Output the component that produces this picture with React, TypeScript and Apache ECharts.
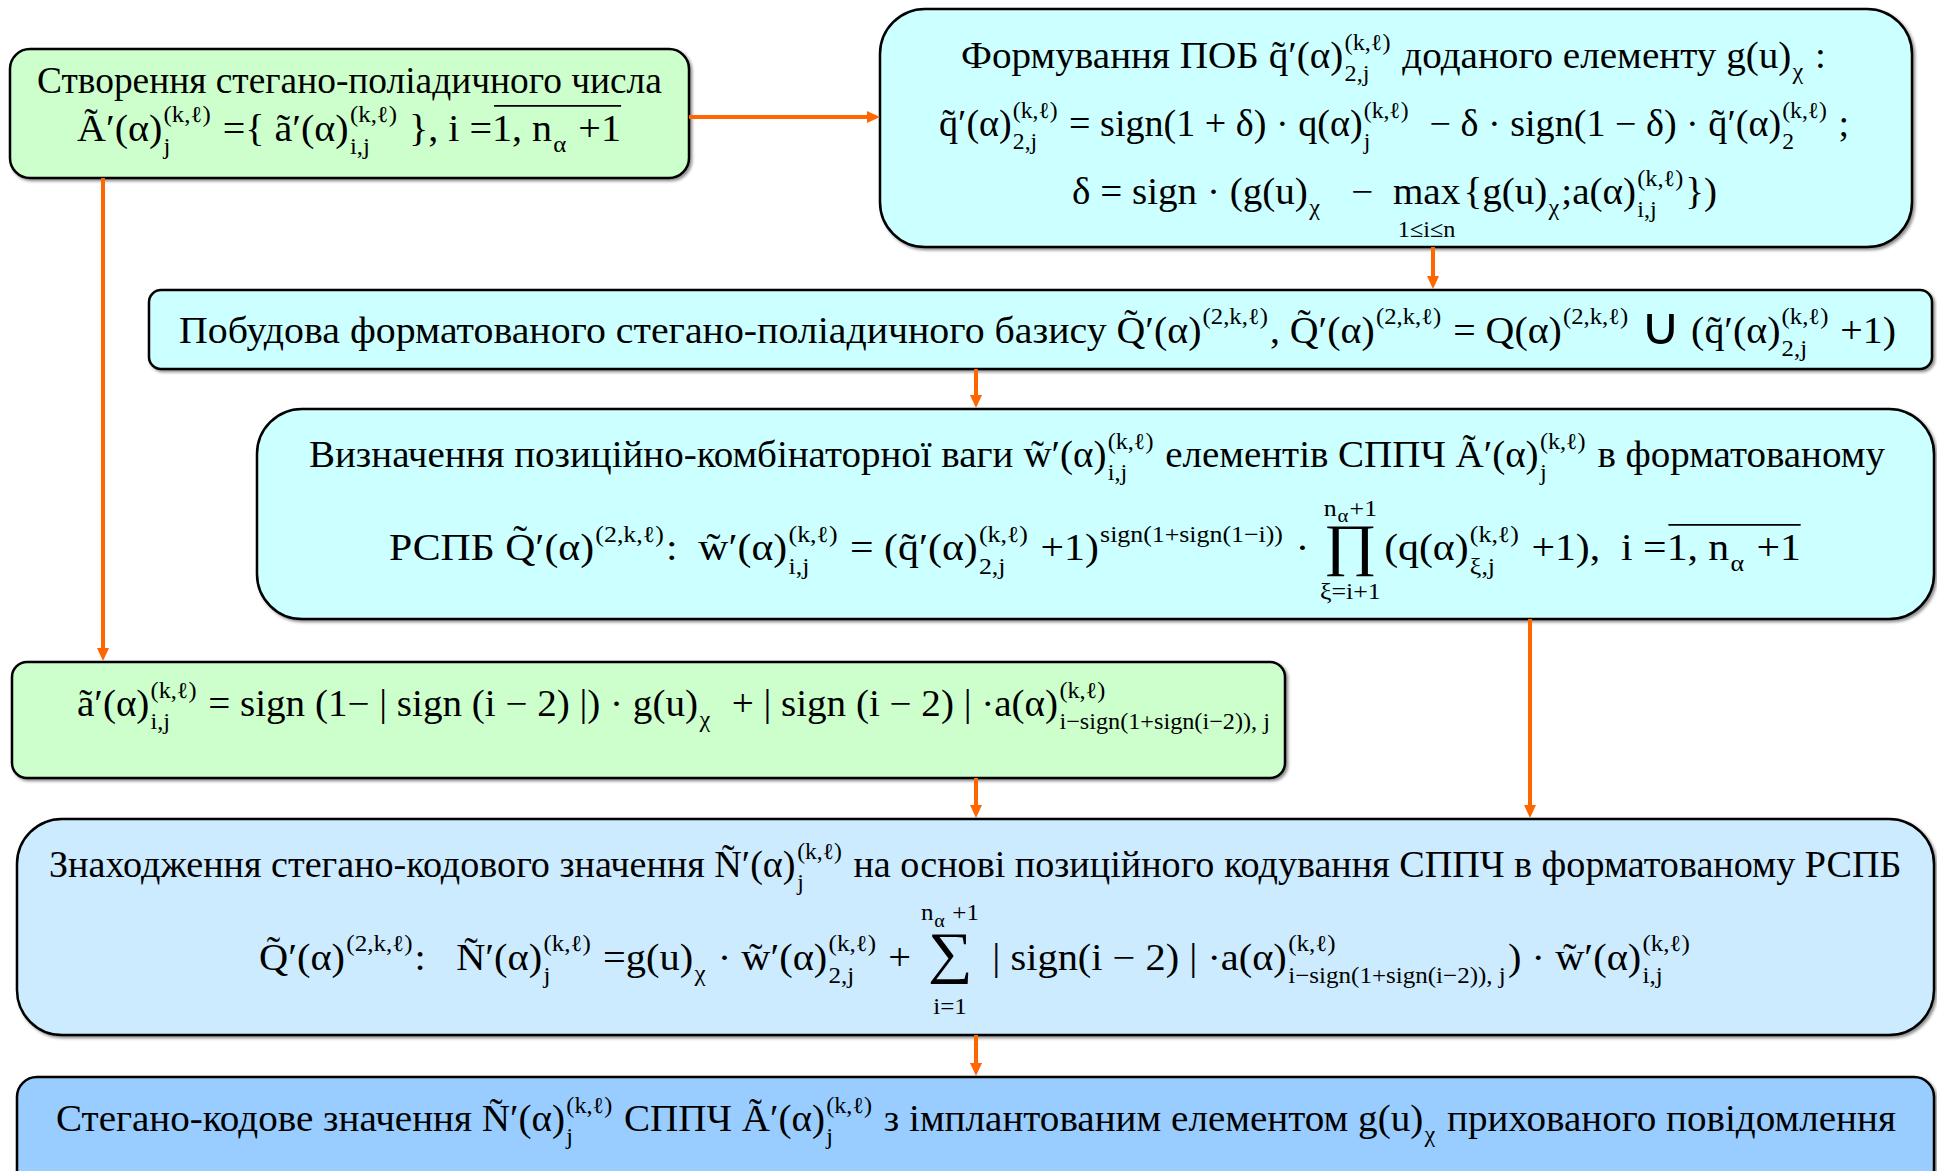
import React, { useEffect, useRef } from "react";
import * as echarts from "echarts";

const FONT = "Liberation Serif";
const KL = "(k,ℓ)";
const K2L = "(2,k,ℓ)";

const S = (sup: any, sub?: any) => ({ sup, sub });
const B = (sub: any) => ({ sub });
const U = (sup: any) => ({ sup });
const qt = { acc: "q", up: 0 };
const Qt = { acc: "Q", up: 0.2 };
const wt = { acc: "w", up: 0 };

// ---- text content ----
const box1Line1 = ["Створення стегано-поліадичного числа"];
const box1Line2 = ["Ã′(α)", S(KL, "j"), " ={ ã′(α)", S(KL, "i,j"), " }, i =", { ol: ["1, n", B("α"), " +1"] }];

const box2Line1 = ["Формування ПОБ ", qt, "′(α)", S(KL, "2,j"), " доданого елементу g(u)", B("χ"), " :"];
const box2Line2 = [qt, "′(α)", S(KL, "2,j"), " = sign(1 + δ) · q(α)", S(KL, "j"), "  − δ · sign(1 − δ) · ", qt, "′(α)", S(KL, "2"), " ;"];
const box2Line3 = ["δ = sign · (g(u)", B("χ"), "   −  ", { op: "max", under: "1≤i≤n", k: 1, ob: 0, unb: 0.9 }, "{g(u)", B("χ"), ";a(α)", S(KL, "i,j"), "})"];

const box3Line1 = ["Побудова форматованого стегано-поліадичного базису ", Qt, "′(α)", U(K2L), ", ", Qt, "′(α)", U(K2L), " = Q(α)", U(K2L), " ", { big: "∪", k: 1.4, dy: 0.04 }, " (", qt, "′(α)", S(KL, "2,j"), " +1)"];

const box4Line1 = ["Визначення позиційно-комбінаторної ваги ", wt, "′(α)", S(KL, "i,j"), " елементів СППЧ Ã′(α)", S(KL, "j"), " в форматованому"];
const box4Line2 = ["РСПБ ", Qt, "′(α)", U(K2L), ":  ", wt, "′(α)", S(KL, "i,j"), " = (", qt, "′(α)", S(KL, "2,j"), " +1)", U("sign(1+sign(1−i))"), " · ",
  { op: "∏", k: 1.55, ob: 0.1, over: ["n", B("α"), "+1"], under: "ξ=i+1", ovb: -1.2, unb: 1.05 },
  "(q(α)", S(KL, "ξ,j"), " +1),  i =", { ol: ["1, n", B("α"), " +1"] }];

const box5Line1 = ["ã′(α)", S(KL, "i,j"), " = sign (1− | sign (i − 2) |) · g(u)", B("χ"), "  + | sign (i − 2) | ·a(α)", S(KL, "i−sign(1+sign(i−2)), j")];

const box6Line1 = ["Знаходження стегано-кодового значення Ñ′(α)", S(KL, "j"), " на основі позиційного кодування СППЧ в форматованому РСПБ"];
const box6Line2 = [Qt, "′(α)", U(K2L), ":   Ñ′(α)", S(KL, "j"), " =g(u)", B("χ"), " · ", wt, "′(α)", S(KL, "2,j"), " + ",
  { op: "∑", k: 1.55, ob: 0.05, over: ["n", B("α"), " +1"], under: "i=1", ovb: -1.35, unb: 1.2 },
  " | sign(i − 2) | ·a(α)", S(KL, "i−sign(1+sign(i−2)), j"), ") · ", wt, "′(α)", S(KL, "i,j")];

const box7Line1 = ["Стегано-кодове значення Ñ′(α)", S(KL, "j"), " СППЧ Ã′(α)", S(KL, "j"), " з імплантованим елементом g(u)", B("χ"), " прихованого повідомлення"];

const lineTokens = [box1Line1, box1Line2, box2Line1, box2Line2, box2Line3, box3Line1, box4Line1, box4Line2, box5Line1, box6Line1, box6Line2, box7Line1];
// [x start, x end, baseline, font size]
const lineSpecs = [
  [37, 662, 93, 37], [77, 621, 141, 37],
  [961, 1826, 68, 37], [939, 1849, 136, 37], [1072, 1717, 204, 37],
  [179, 1896, 343, 37],
  [309, 1885, 467, 37], [389, 1801, 560, 37],
  [77, 1272, 716, 37],
  [49, 1902, 877, 37], [259, 1692, 970, 37],
  [56, 1896, 1131, 37],
];

// boxes: x, y, w, h, r
const boxRects = [
  [10, 49, 679, 129, 20],
  [880, 9, 1032, 238, 45],
  [149, 290, 1783, 79, 12],
  [257, 409, 1677, 210, 45],
  [12, 662, 1273, 116, 15],
  [17, 819, 1917, 216, 45],
  [17, 1077, 1917, 120, 20],
];
const boxFills = ["#CCFFCC", "#CCFFFF", "#CCFFFF", "#CCFFFF", "#CCFFCC", "#CCEBFF", "#99CCFF"];

// arrows: x1, y1, x2, y2 (tip at x2,y2)
const arrows = [
  [689, 117, 880, 117],
  [103, 178, 103, 661],
  [1433, 247, 1433, 289],
  [976, 369, 976, 408],
  [1530, 619, 1530, 818],
  [976, 778, 976, 818],
  [976, 1035, 976, 1076],
];
const ARROW = "#FF6600";

let ctx: CanvasRenderingContext2D | null = null;
function tw(s: string, size: number) {
  if (!ctx) ctx = document.createElement("canvas").getContext("2d");
  ctx!.font = `${size}px ${FONT}`;
  return ctx!.measureText(s).width;
}

type El = { s?: string; x: number; b: number; size: number; line?: number[]; lw?: number };

function lay(toks: any, F: number): { w: number; els: El[] } {
  const arr = typeof toks === "string" ? [toks] : toks;
  let x = 0;
  const els: El[] = [];
  const add = (sub: { els: El[] }, dx: number, db: number) => {
    for (const e of sub.els) {
      if (e.line) els.push({ ...e, line: [e.line[0] + dx, e.line[1] + db, e.line[2] + dx, e.line[3] + db] });
      else els.push({ ...e, x: e.x + dx, b: e.b + db });
    }
  };
  for (const t of arr) {
    if (typeof t === "string") {
      els.push({ s: t, x, b: 0, size: F });
      x += tw(t, F);
      continue;
    }
    if (t.acc !== undefined) {
      const lw = tw(t.acc, F);
      const tiw = tw("˜", F);
      els.push({ s: t.acc, x, b: 0, size: F });
      els.push({ s: "˜", x: x + (lw - tiw) / 2, b: -F * (t.up || 0), size: F });
      x += lw;
      continue;
    }
    if (t.op !== undefined) {
      const sz = F * (t.k ?? 1);
      const opw = tw(t.op, sz);
      const ssz = F * 0.62;
      const ov = t.over ? lay(t.over, ssz) : null;
      const un = t.under ? lay(t.under, ssz) : null;
      const w = Math.max(opw, ov ? ov.w : 0, un ? un.w : 0);
      els.push({ s: t.op, x: x + (w - opw) / 2, b: F * (t.ob ?? 0), size: sz });
      if (ov) add(ov, x + (w - ov.w) / 2, F * (t.ovb ?? -1.2));
      if (un) add(un, x + (w - un.w) / 2, F * (t.unb ?? 1.0));
      x += w + F * 0.08;
      continue;
    }
    if (t.ol !== undefined) {
      const inner = lay(t.ol, F);
      add(inner, x, 0);
      els.push({ x: 0, b: 0, size: F, line: [x + F * 0.05, -0.95 * F, x + inner.w, -0.95 * F], lw: Math.max(1.2, F * 0.045) });
      x += inner.w;
      continue;
    }
    if (t.big !== undefined) {
      const sz = F * t.k;
      els.push({ s: t.big, x, b: F * (t.dy ?? 0), size: sz });
      x += tw(t.big, sz);
      continue;
    }
    const ssz = F * (F >= 26 ? 0.62 : 0.8);
    const sp = t.sup ? lay(t.sup, ssz) : null;
    const sb = t.sub ? lay(t.sub, ssz) : null;
    x += F * 0.03;
    if (sp) add(sp, x, -F * 0.5);
    if (sb) add(sb, x, sp ? F * 0.36 : F * 0.3);
    x += Math.max(sp ? sp.w : 0, sb ? sb.w : 0) + F * 0.05;
  }
  return { w: x, els };
}

function buildGraphics() {
  const elements: any[] = [];
  boxRects.forEach((r, i) => {
    elements.push({
      type: "rect",
      shape: { x: r[0], y: r[1], width: r[2], height: r[3], r: r[4] },
      style: { fill: boxFills[i], stroke: "#000", lineWidth: 2.5, shadowColor: "rgba(0,0,0,0.45)", shadowBlur: 3, shadowOffsetX: 2, shadowOffsetY: 2 },
      z: 1,
    });
  });
  arrows.forEach((a) => {
    const [x1, y1, x2, y2] = a;
    const horiz = y1 === y2;
    const L = 13, W = 6;
    let tipBase: number[];
    let pts: number[][];
    if (horiz) {
      tipBase = [x2 - L, y2];
      pts = [[x2, y2], [x2 - L, y2 - W], [x2 - L, y2 + W]];
    } else {
      tipBase = [x2, y2 - L];
      pts = [[x2, y2], [x2 - W, y2 - L], [x2 + W, y2 - L]];
    }
    elements.push({ type: "line", shape: { x1, y1, x2: tipBase[0], y2: tipBase[1] }, style: { stroke: ARROW, lineWidth: 4 }, z: 2 });
    elements.push({ type: "polygon", shape: { points: pts }, style: { fill: ARROW }, z: 2 });
  });
  lineTokens.forEach((toks, i) => {
    const [x0, x1, base, F] = lineSpecs[i];
    const L = lay(toks, F);
    const sx = (x1 - x0) / L.w;
    const children: any[] = [];
    for (const e of L.els) {
      if (e.line) {
        children.push({ type: "line", z: 5, shape: { x1: e.line[0], y1: e.line[1], x2: e.line[2], y2: e.line[3] }, style: { stroke: "#000", lineWidth: e.lw } });
      } else {
        children.push({
          type: "text",
          z: 5,
          x: e.x,
          y: e.b - 0.3375 * e.size,
          style: { text: e.s, fontSize: e.size, fontFamily: FONT, fill: "#000", align: "left", verticalAlign: "middle" },
        });
      }
    }
    elements.push({ type: "group", x: x0, y: base, scaleX: sx, z: 5, children });
  });
  return elements;
}

export default function App() {
  const ref = useRef<HTMLDivElement>(null);
  useEffect(() => {
    if (!ref.current) return;
    const chart = echarts.init(ref.current, undefined, { renderer: "svg" });
    chart.setOption({ animation: false, backgroundColor: "#ffffff", graphic: { elements: buildGraphics() } });
    return () => chart.dispose();
  }, []);
  return <div ref={ref} style={{ position: "fixed", left: 0, top: 0, width: 1937, height: 1171, background: "#fff" }} />;
}
